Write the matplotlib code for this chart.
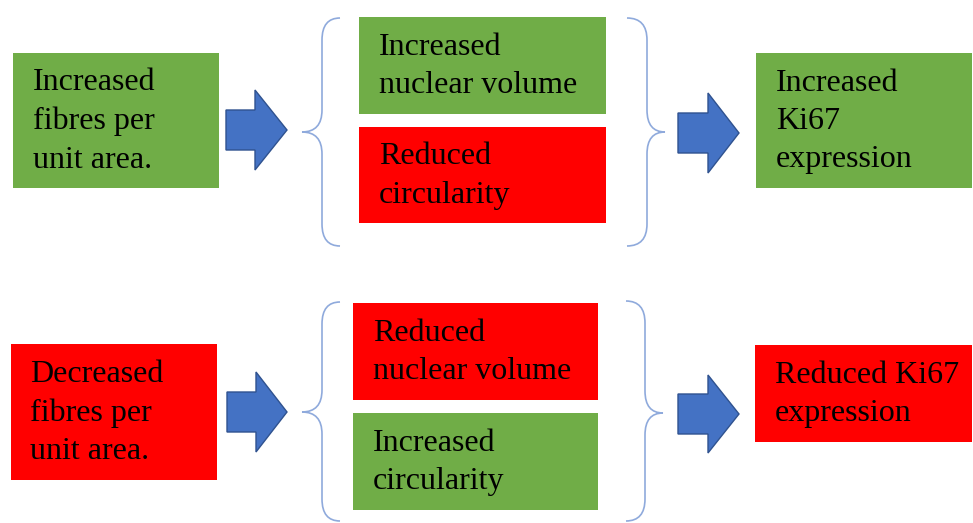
import matplotlib
matplotlib.use("Agg")
import matplotlib.pyplot as plt
from matplotlib.patches import Rectangle, Polygon, PathPatch
from matplotlib.path import Path

# ---- content ----
box_texts = [
    "Increased\nfibres per\nunit area.",
    "Increased\nnuclear volume",
    "Reduced\ncircularity",
    "Increased\nKi67\nexpression",
    "Decreased\nfibres per\nunit area.",
    "Reduced\nnuclear volume",
    "Increased\ncircularity",
    "Reduced Ki67\nexpression",
]
box_kinds = ["up", "up", "down", "up", "down", "down", "up", "down"]

# ---- layout (pixels) ----
box_rects = [
    (13, 53, 219, 188),
    (359, 17, 606, 114),
    (359, 127, 606, 223),
    (756, 53, 972, 188),
    (11, 344, 217, 480),
    (353, 303, 598, 400),
    (353, 413, 598, 510),
    (755, 345, 972, 442),
]
text_pad = [20, 20, 20, 20, 19, 20, 20, 20]

GREEN = "#70AD47"
RED = "#FF0000"
BLUE = "#4472C4"
BLUE_EDGE = "#2F528F"
BRACE = "#8FAADC"
colors = {"up": GREEN, "down": RED}

fig = plt.figure(figsize=(9.73, 5.23), dpi=100)
ax = fig.add_axes([0, 0, 1, 1])
ax.set_xlim(0, 973)
ax.set_ylim(523, 0)
ax.axis("off")

for (x0, y0, x1, y1), txt, kind, pad in zip(box_rects, box_texts, box_kinds, text_pad):
    ax.add_patch(Rectangle((x0, y0), x1 - x0, y1 - y0, facecolor=colors[kind],
                           edgecolor="none"))
    ax.text(x0 + pad, (y0 + y1) / 2 + 1, txt, ha="left", va="center",
            fontsize=23, family="Liberation Serif", color="black",
            linespacing=1.43)


def arrow(x0, xh, xt, yc, bh, hh):
    pts = [(x0, yc - bh), (xh, yc - bh), (xh, yc - hh), (xt, yc),
           (xh, yc + hh), (xh, yc + bh), (x0, yc + bh)]
    ax.add_patch(Polygon(pts, closed=True, facecolor=BLUE, edgecolor=BLUE_EDGE,
                         linewidth=1.0))


arrow(226, 255, 287, 130, 20, 40)
arrow(678, 708, 739, 133, 20, 40)
arrow(227, 256, 287, 412, 20, 40)
arrow(678, 708, 739, 414, 20, 39)


def brace(x_end, x_line, x_tip, y_top, y_mid, y_bot, r=22):
    verts = [
        (x_end, y_top), (x_line, y_top), (x_line, y_top + r),
        (x_line, y_mid - r),
        (x_line, y_mid), (x_tip, y_mid),
        (x_line, y_mid), (x_line, y_mid + r),
        (x_line, y_bot - r),
        (x_line, y_bot), (x_end, y_bot),
    ]
    codes = [Path.MOVETO, Path.CURVE3, Path.CURVE3,
             Path.LINETO,
             Path.CURVE3, Path.CURVE3,
             Path.CURVE3, Path.CURVE3,
             Path.LINETO,
             Path.CURVE3, Path.CURVE3]
    ax.add_patch(PathPatch(Path(verts, codes), facecolor="none",
                           edgecolor=BRACE, linewidth=1.2))


brace(340, 322, 302, 18, 132, 246)
brace(627, 647, 665, 18, 132, 246)
brace(340, 322, 302, 302, 412, 521)
brace(626, 645, 663, 301, 413, 521)

fig.savefig("out.png", dpi=100)
